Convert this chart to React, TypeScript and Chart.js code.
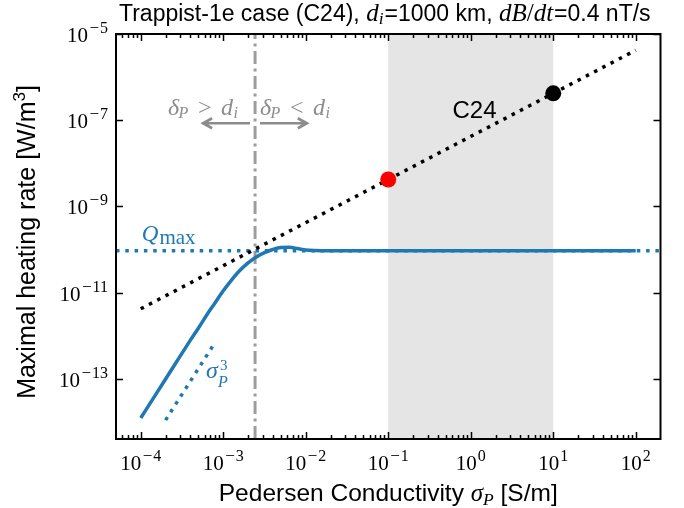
import { useEffect, useRef } from 'react';
import { Chart, registerables } from 'chart.js';

Chart.register(...registerables);

// ---------- data ----------
const X_MIN = Math.pow(10, -4.3);
const X_MAX = Math.pow(10, 2.3);
const Y_MIN = 4e-15;
const Y_MAX = 1e-5;

// solid blue curve (maximal heating rate)
const curveSigma = [1e-4, 1.585e-4, 2.51e-4, 3.98e-4, 5.01e-4, 6.31e-4, 7.94e-4, 1e-3, 1.26e-3, 1.585e-3, 2e-3, 2.51e-3, 3.16e-3, 3.98e-3, 5.01e-3, 6.31e-3, 7.94e-3, 1e-2, 1.26e-2, 1.585e-2, 3e-2, 1e-1, 1, 10, 100];
const curveQ = [1.23e-14, 4.9e-14, 1.95e-13, 7.76e-13, 1.51e-12, 3.02e-12, 5.75e-12, 1.1e-11, 1.95e-11, 3.24e-11, 4.89e-11, 6.71e-11, 8.47e-11, 1.0e-10, 1.107e-10, 1.12e-10, 1.05e-10, 9.7e-11, 9.44e-11, 9.4e-11, 9.4e-11, 9.4e-11, 9.4e-11, 9.4e-11, 9.4e-11];

// Q_max horizontal dotted line
const QMAX = 9.4e-11;
const qmaxSigma = [X_MIN, X_MAX];
const qmaxQ = [QMAX, QMAX];

// sigma_P^3 guide
const cubeSigma = [2e-4, 7.7e-4];
const cubeQ = [1.1e-14, 6.3e-13];

// C24 black dotted line
const c24Sigma = [1e-4, 1e2];
const c24Q = [4.2e-12, 4.2e-6];

// markers
const redSigma = [0.1];
const redQ = [4.2e-9];
const blackSigma = [10];
const blackQ = [4.2e-7];

// delta_P = d_i line and shaded region
const DELTA_SIGMA = 2.43e-3;
const SPAN_SIGMA = [0.1, 10];

// ticks
const X_TICK_EXP = [-4, -3, -2, -1, 0, 1, 2];
const Y_TICK_EXP = [-13, -11, -9, -7, -5];

// annotation anchors (data coordinates)
const LEFT_TEXT_AT = { x: 2.14e-4, y: 1.3e-7 };
const RIGHT_TEXT_AT = { x: 2.79e-3, y: 1.3e-7 };
const ARROW_Q = 8.5e-8;
const LEFT_ARROW = [2.11e-3, 5.7e-4];
const RIGHT_ARROW = [2.79e-3, 1.03e-2];
const QMAX_TEXT_AT = { x: 1.03e-4, y: 1.57e-10 };
const CUBE_TEXT_AT = { x: 6.2e-4, y: 1.04e-13 };
const C24_TEXT_AT = { x: 0.6, y: 1.1e-7 };

// ---------- style ----------
const SANS = '"Liberation Sans", Arial, Helvetica, sans-serif';
const SERIF = '"Liberation Serif", "Times New Roman", serif';
const BLUE = '#1f77b4';
const GRAY_TXT = '#8c8c8c';

type Seg = { t: string; font: string; dy?: number; color?: string; gap?: number };

function segW(ctx: CanvasRenderingContext2D, s: Seg) {
  ctx.font = s.font;
  return ctx.measureText(s.t).width + (s.gap || 0);
}

function drawRich(ctx: CanvasRenderingContext2D, segs: Seg[], x: number, y: number, align: 'left' | 'center' | 'right', color: string) {
  let w = 0;
  for (const s of segs) w += segW(ctx, s);
  let cx = align === 'left' ? x : align === 'center' ? x - w / 2 : x - w;
  ctx.textBaseline = 'alphabetic';
  ctx.textAlign = 'left';
  for (const s of segs) {
    cx += s.gap || 0;
    ctx.font = s.font;
    ctx.fillStyle = s.color || color;
    ctx.fillText(s.t, cx, y + (s.dy || 0));
    cx += ctx.measureText(s.t).width;
  }
}

function powLabel(e: number): Seg[] {
  const segs: Seg[] = [{ t: '10', font: `21px ${SERIF}` }];
  if (e < 0) {
    segs.push({ t: '\u2212', font: `17px ${SERIF}`, dy: -9, gap: 1.5 });
    segs.push({ t: String(-e), font: `16px ${SERIF}`, dy: -9, gap: 1 });
  } else {
    segs.push({ t: String(e), font: `16px ${SERIF}`, dy: -9, gap: 1 });
  }
  return segs;
}

function arrow(ctx: CanvasRenderingContext2D, x0: number, y0: number, x1: number, y1: number) {
  ctx.beginPath();
  ctx.moveTo(x0, y0);
  ctx.lineTo(x1, y1);
  const dir = Math.sign(x1 - x0);
  ctx.moveTo(x1 - dir * 9, y1 - 5);
  ctx.lineTo(x1, y1);
  ctx.lineTo(x1 - dir * 9, y1 + 5);
  ctx.stroke();
}

// draw relation text "δ_P > d_i" with pieces placed at fixed offsets
function drawDelta(ctx: CanvasRenderingContext2D, x: number, y: number, rel: string) {
  ctx.fillStyle = GRAY_TXT;
  ctx.textAlign = 'left';
  ctx.textBaseline = 'alphabetic';
  ctx.font = `italic 24px ${SERIF}`;
  ctx.fillText('\u03b4', x, y);
  ctx.font = `italic 16px ${SERIF}`;
  ctx.fillText('P', x + 10.5, y + 2.5);
  ctx.font = `24px ${SERIF}`;
  ctx.fillText(rel, x + 30, y);
  ctx.font = `italic 24px ${SERIF}`;
  ctx.fillText('d', x + 53, y);
  ctx.font = `italic 16px ${SERIF}`;
  ctx.fillText('i', x + 65.5, y + 2.5);
}

const decorPlugin = {
  id: 'decor',
  beforeDatasetsDraw(chart: any) {
    const { ctx, chartArea, scales } = chart;
    const xs = scales.x;
    const x0 = xs.getPixelForValue(SPAN_SIGMA[0]);
    const x1 = xs.getPixelForValue(SPAN_SIGMA[1]);
    ctx.save();
    ctx.fillStyle = '#e5e5e5';
    ctx.fillRect(x0, chartArea.top, x1 - x0, chartArea.bottom - chartArea.top);
    ctx.restore();
  },
  afterDraw(chart: any) {
    const { ctx, chartArea, scales } = chart;
    const xs = scales.x;
    const ys = scales.y;
    const { left, right, top, bottom } = chartArea;
    ctx.save();

    // frame
    ctx.strokeStyle = '#000';
    ctx.lineWidth = 2;
    ctx.strokeRect(left, top, right - left, bottom - top);

    // x ticks (major + minor), inward on bottom and top
    ctx.lineWidth = 1.5;
    ctx.beginPath();
    for (let e = -5; e <= 2; e++) {
      for (let m = 1; m <= 9; m++) {
        const v = m * Math.pow(10, e);
        if (v < X_MIN || v > X_MAX) continue;
        const px = Math.round(xs.getPixelForValue(v)) + 0.5;
        const len = m === 1 ? 7 : 4;
        ctx.moveTo(px, bottom);
        ctx.lineTo(px, bottom - len);
        ctx.moveTo(px, top);
        ctx.lineTo(px, top + len);
      }
    }
    // y ticks, inward on left and right
    for (const e of Y_TICK_EXP) {
      const py = Math.round(ys.getPixelForValue(Math.pow(10, e))) + 0.5;
      ctx.moveTo(left, py);
      ctx.lineTo(left + 7, py);
      ctx.moveTo(right, py);
      ctx.lineTo(right - 7, py);
    }
    ctx.stroke();

    // tick labels
    for (const e of X_TICK_EXP) {
      const px = xs.getPixelForValue(Math.pow(10, e));
      drawRich(ctx, powLabel(e), px, 470, 'center', '#000');
    }
    for (const e of Y_TICK_EXP) {
      const py = ys.getPixelForValue(Math.pow(10, e));
      drawRich(ctx, powLabel(e), left - 8, py + 8, 'right', '#000');
    }

    // title
    drawRich(ctx, [
      { t: 'Trappist-1e case (C24), ', font: `23px ${SANS}` },
      { t: 'd', font: `italic 25px ${SERIF}` },
      { t: 'i', font: `italic 17.5px ${SERIF}`, dy: 3 },
      { t: '=1000 km, ', font: `23px ${SANS}`, gap: 1 },
      { t: 'dB', font: `italic 25px ${SERIF}` },
      { t: '/', font: `25px ${SERIF}` },
      { t: 'dt', font: `italic 25px ${SERIF}` },
      { t: '=0.4 nT/s', font: `23px ${SANS}`, gap: 1 },
    ], 119, 21, 'left', '#000');

    // x label
    drawRich(ctx, [
      { t: 'Pedersen Conductivity ', font: `24.5px ${SANS}` },
      { t: '\u03c3', font: `italic 25px ${SERIF}` },
      { t: 'P', font: `italic 17.5px ${SERIF}`, dy: 4 },
      { t: ' [S/m]', font: `24.5px ${SANS}` },
    ], (left + right) / 2, 501, 'center', '#000');

    // y label
    ctx.save();
    ctx.translate(35, 242);
    ctx.rotate(-Math.PI / 2);
    drawRich(ctx, [
      { t: 'Maximal heating rate [W/m', font: `25px ${SANS}` },
      { t: '3', font: `17px ${SANS}`, dy: -10 },
      { t: ']', font: `25px ${SANS}` },
    ], 0, 0, 'center', '#000');
    ctx.restore();

    // delta annotations
    const ty = ys.getPixelForValue(LEFT_TEXT_AT.y);
    drawDelta(ctx, xs.getPixelForValue(LEFT_TEXT_AT.x), ty, '>');
    drawDelta(ctx, xs.getPixelForValue(RIGHT_TEXT_AT.x), ty, '<');

    ctx.strokeStyle = GRAY_TXT;
    ctx.lineWidth = 2.7;
    ctx.lineCap = 'butt';
    const ay = ys.getPixelForValue(ARROW_Q);
    arrow(ctx, xs.getPixelForValue(LEFT_ARROW[0]), ay, xs.getPixelForValue(LEFT_ARROW[1]), ay);
    arrow(ctx, xs.getPixelForValue(RIGHT_ARROW[0]), ay, xs.getPixelForValue(RIGHT_ARROW[1]), ay);

    // Q_max label
    drawRich(ctx, [
      { t: 'Q', font: `italic 23px ${SERIF}` },
      { t: 'max', font: `21px ${SERIF}`, dy: 3, gap: 1 },
    ], xs.getPixelForValue(QMAX_TEXT_AT.x), ys.getPixelForValue(QMAX_TEXT_AT.y), 'left', BLUE);

    // sigma^3 label
    const cx = xs.getPixelForValue(CUBE_TEXT_AT.x);
    const cy = ys.getPixelForValue(CUBE_TEXT_AT.y);
    ctx.font = `italic 24px ${SERIF}`;
    const sw = ctx.measureText('\u03c3').width;
    drawRich(ctx, [{ t: '\u03c3', font: `italic 24px ${SERIF}` }], cx, cy, 'left', BLUE);
    drawRich(ctx, [{ t: '3', font: `15px ${SERIF}` }], cx + sw + 2, cy - 8, 'left', BLUE);
    drawRich(ctx, [{ t: 'P', font: `italic 16px ${SERIF}` }], cx + sw, cy + 9, 'left', BLUE);

    // C24 label
    drawRich(ctx, [{ t: 'C24', font: `24px ${SANS}` }], xs.getPixelForValue(C24_TEXT_AT.x), ys.getPixelForValue(C24_TEXT_AT.y), 'left', '#000');

    ctx.restore();
  },
};

const pts = (xs: number[], ys: number[]) => xs.map((x, i) => ({ x, y: ys[i] }));

export default function App() {
  const ref = useRef<HTMLCanvasElement | null>(null);
  useEffect(() => {
    if (!ref.current) return;
    const dotted = { borderDash: [3.5, 5.8], borderCapStyle: 'butt', pointRadius: 0, showLine: true, borderWidth: 3.5 };
    const chart = new Chart(ref.current, {
      type: 'scatter',
      data: {
        datasets: [
          { data: pts(redSigma, redQ), pointRadius: 8, pointBackgroundColor: '#ff0000', pointBorderWidth: 0, showLine: false, order: 0 } as any,
          { data: pts(blackSigma, blackQ), pointRadius: 8, pointBackgroundColor: '#000000', pointBorderWidth: 0, showLine: false, order: 0 } as any,
          { data: pts(c24Sigma, c24Q), borderColor: '#000000', ...dotted, order: 1 } as any,
          {
            data: pts(curveSigma, curveQ),
            showLine: true,
            borderColor: BLUE,
            borderWidth: 3.5,
            cubicInterpolationMode: 'monotone',
            pointRadius: 0,
            order: 2,
          } as any,
          { data: pts(qmaxSigma, qmaxQ), borderColor: BLUE, ...dotted, order: 3 } as any,
          { data: pts(cubeSigma, cubeQ), borderColor: BLUE, ...dotted, order: 3 } as any,
          {
            data: pts([DELTA_SIGMA, DELTA_SIGMA], [Y_MIN, Y_MAX]),
            showLine: true,
            borderColor: '#9d9d9d',
            borderWidth: 3,
            borderDash: [13, 4.5, 3, 4.5],
            borderCapStyle: 'butt',
            pointRadius: 0,
            order: 4,
          } as any,
        ],
      },
      options: {
        animation: false,
        responsive: false,
        maintainAspectRatio: false,
        devicePixelRatio: 1,
        events: [],
        layout: { padding: { left: 116, right: 23.5, top: 34, bottom: 69 } },
        plugins: { legend: { display: false }, tooltip: { enabled: false }, title: { display: false } },
        scales: {
          x: { type: 'logarithmic', min: X_MIN, max: X_MAX, display: false },
          y: { type: 'logarithmic', min: Y_MIN, max: Y_MAX, display: false },
        },
      },
      plugins: [decorPlugin],
    } as any);
    return () => chart.destroy();
  }, []);
  return (
    <div style={{ position: 'absolute', left: 0, top: 0, width: 684, height: 508, background: '#fff' }}>
      <canvas ref={ref} width={684} height={508} style={{ display: 'block', width: 684, height: 508 }} />
    </div>
  );
}
